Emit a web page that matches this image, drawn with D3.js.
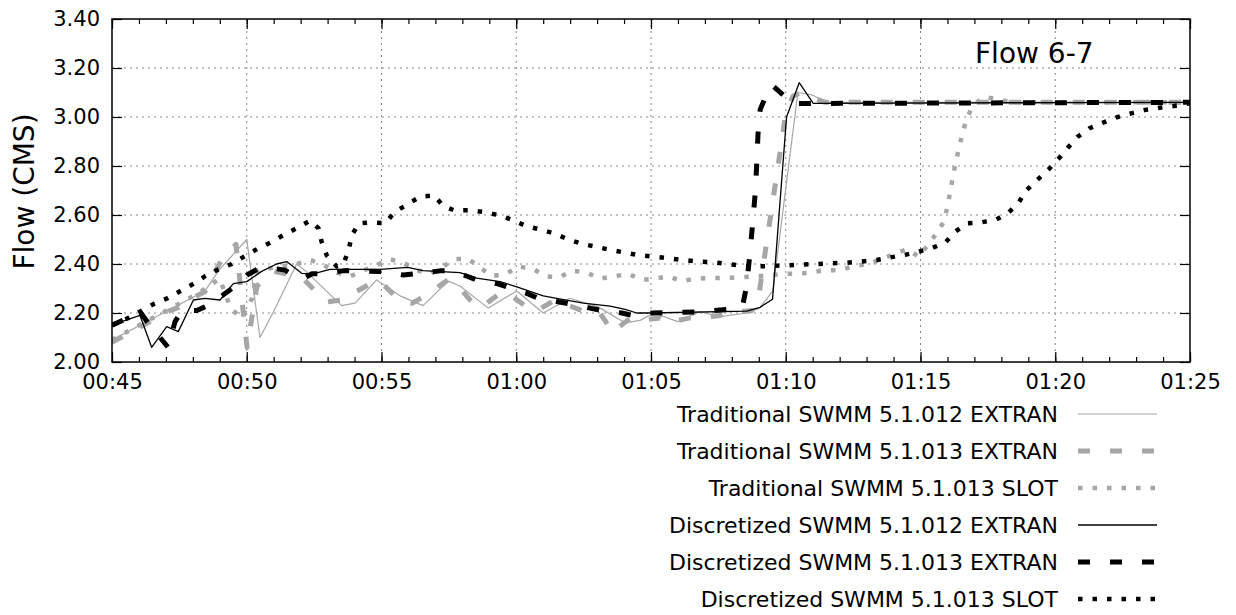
<!DOCTYPE html>
<html>
<head>
<meta charset="utf-8">
<title>Flow 6-7</title>
<script src="https://d3js.org/d3.v7.min.js"></script>
<style>
  body { margin: 0; background: #fff; }
  text { font-family: "DejaVu Sans", sans-serif; fill: #000; }
</style>
</head>
<body>
<script>
// time is minutes after midnight, flow in CMS
var trad012Extran = [[45.00,2.09],[48.45,2.29],[49.01,2.38],[50.00,2.50],[50.49,2.10],[50.97,2.20],[51.85,2.40],[52.20,2.37],
  [53.52,2.23],[54.02,2.24],[54.82,2.335],[55.69,2.27],[56.54,2.23],[57.48,2.33],[57.91,2.31],[58.96,2.22],[60.02,2.29],
  [61.00,2.20],[61.99,2.26],[63.03,2.225],[64.04,2.16],[64.60,2.17],[65.10,2.20],[66.00,2.165],[66.82,2.205],[67.57,2.185],
  [68.55,2.20],[69.03,2.22],[69.52,2.29],[70.45,3.10],[70.98,3.09],[71.54,3.06],[85.00,3.06]];

var trad013Extran = [[45.00,2.08],[47.15,2.21],[47.52,2.225],[48.08,2.267],[48.45,2.287],[48.93,2.39],[49.08,2.42],[49.60,2.48],
  [50.01,2.06],[50.38,2.31],[50.97,2.37],[51.68,2.355],[52.09,2.34],[52.64,2.28],[52.97,2.245],[53.65,2.255],[53.94,2.28],
  [54.76,2.33],[54.94,2.33],[55.50,2.27],[55.80,2.245],[56.13,2.24],[56.54,2.265],[56.87,2.29],[57.47,2.335],[57.84,2.31],
  [58.47,2.23],[58.73,2.225],[59.47,2.287],[59.69,2.28],[60.51,2.215],[60.77,2.21],[61.44,2.253],[61.73,2.24],[62.55,2.205],
  [63.10,2.20],[63.29,2.17],[63.55,2.12],[64.22,2.178],[64.59,2.17],[65.33,2.18],[65.59,2.16],[66.45,2.18],[66.82,2.18],
  [67.57,2.19],[67.83,2.20],[68.75,2.21],[68.97,2.25],[70.01,3.02],[70.27,3.085],[70.53,3.10],[70.97,3.08],[71.46,3.06],[85.00,3.06]];

var trad013Slot = [[45.00,2.09],[48.20,2.28],[49.00,2.34],[49.40,2.22],[49.80,2.18],[50.20,2.26],[50.40,2.375],[51.85,2.40],
  [52.35,2.417],[52.85,2.396],[53.35,2.365],[53.84,2.35],[54.82,2.396],[55.31,2.42],[55.81,2.405],[56.30,2.375],[56.80,2.36],
  [57.23,2.386],[57.72,2.42],[58.22,2.42],[58.65,2.387],[59.08,2.35],[59.64,2.36],[60.07,2.39],[60.63,2.38],[61.07,2.35],
  [61.62,2.346],[62.06,2.373],[62.61,2.365],[63.11,2.34],[63.66,2.35],[64.16,2.36],[64.65,2.335],[65.15,2.34],[65.64,2.35],
  [66.14,2.33],[66.63,2.34],[67.00,2.342],[68.00,2.344],[69.00,2.35],[69.50,2.355],[70.00,2.36],[70.50,2.36],[71.50,2.375],
  [72.00,2.375],[72.50,2.39],[73.00,2.40],[73.50,2.416],[74.00,2.44],[74.50,2.46],[74.94,2.43],[75.60,2.525],[75.85,2.57],
  [76.00,2.634],[76.30,2.813],[76.55,2.93],[76.70,2.988],[76.93,3.045],[77.36,3.083],[77.85,3.072],[78.40,3.06],[85.00,3.06]];

var disc012Extran = [[45.00,2.151],[46.04,2.19],[46.47,2.06],[47.03,2.144],[47.46,2.124],[48.02,2.253],[48.45,2.26],[49.01,2.253],
  [49.50,2.32],[50.00,2.328],[50.55,2.37],[51.11,2.40],[51.48,2.41],[52.04,2.362],[52.46,2.36],[53.09,2.378],[54.94,2.378],
  [55.98,2.386],[56.54,2.373],[57.91,2.365],[58.53,2.342],[59.40,2.328],[60.02,2.307],[61.00,2.27],[61.50,2.26],[62.49,2.24],
  [63.48,2.228],[64.04,2.215],[64.47,2.20],[64.96,2.20],[68.55,2.208],[69.04,2.223],[69.51,2.256],[70.03,3.00],[70.50,3.14],
  [71.02,3.056],[85.00,3.06]];

var disc013Extran = [[45.00,2.15],[45.59,2.18],[46.04,2.205],[46.30,2.165],[47.08,2.06],[47.34,2.165],[47.60,2.21],[48.15,2.21],
  [48.53,2.23],[49.08,2.27],[49.45,2.30],[50.01,2.355],[50.42,2.38],[51.12,2.38],[51.42,2.375],[51.72,2.355],[52.09,2.34],
  [52.42,2.36],[52.72,2.36],[53.65,2.373],[55.06,2.369],[55.80,2.355],[56.24,2.36],[57.17,2.372],[57.54,2.373],[58.17,2.35],
  [58.54,2.335],[59.29,2.32],[59.69,2.305],[60.44,2.278],[60.81,2.26],[61.55,2.246],[61.99,2.237],[62.74,2.22],[63.18,2.21],
  [63.92,2.20],[64.33,2.19],[65.07,2.20],[66.82,2.205],[67.86,2.215],[68.30,2.22],[68.42,2.24],[68.53,2.30],[68.67,2.44],
  [68.75,2.54],[68.86,2.68],[68.92,2.80],[68.97,2.93],[69.05,3.03],[69.24,3.08],[69.49,3.13],[69.90,3.09],[70.16,3.055],[85.00,3.06]];

var disc013Slot = [[45.00,2.151],[45.61,2.18],[46.55,2.237],[47.05,2.26],[47.54,2.29],[48.04,2.32],[48.45,2.35],[48.94,2.378],
  [49.44,2.40],[49.94,2.433],[50.43,2.464],[50.93,2.49],[51.36,2.518],[51.85,2.546],[52.35,2.577],[52.66,2.546],[52.78,2.49],
  [52.97,2.435],[53.34,2.39],[53.59,2.40],[53.78,2.457],[53.90,2.518],[54.17,2.566],[54.68,2.57],[55.13,2.566],[55.50,2.613],
  [55.96,2.643],[56.43,2.675],[56.95,2.68],[57.29,2.637],[57.72,2.618],[58.26,2.62],[58.80,2.612],[59.33,2.60],[59.87,2.58],
  [60.36,2.555],[60.88,2.541],[61.41,2.525],[61.93,2.50],[62.45,2.482],[62.98,2.47],[63.51,2.457],[64.05,2.446],[64.59,2.435],
  [65.15,2.43],[65.68,2.423],[66.23,2.416],[66.78,2.41],[67.34,2.407],[67.87,2.40],[68.40,2.392],[68.96,2.39],[69.52,2.392],
  [70.06,2.395],[71.15,2.40],[71.70,2.403],[72.26,2.405],[72.81,2.41],[73.37,2.416],[73.89,2.427],[74.42,2.437],[74.91,2.45],
  [75.40,2.464],[75.92,2.487],[76.29,2.532],[76.74,2.566],[77.25,2.57],[77.79,2.58],[78.27,2.61],[78.64,2.65],[78.92,2.70],
  [79.33,2.743],[79.75,2.786],[80.12,2.829],[80.47,2.875],[80.84,2.92],[81.27,2.954],[81.77,2.977],[82.29,2.999],[82.82,3.015],
  [83.34,3.029],[83.88,3.038],[84.41,3.045],[85.00,3.056]];

var seriesNames = ["Traditional SWMM 5.1.012 EXTRAN", "Traditional SWMM 5.1.013 EXTRAN", "Traditional SWMM 5.1.013 SLOT",
  "Discretized SWMM 5.1.012 EXTRAN", "Discretized SWMM 5.1.013 EXTRAN", "Discretized SWMM 5.1.013 SLOT"];
var seriesData = [trad012Extran, trad013Extran, trad013Slot, disc012Extran, disc013Extran, disc013Slot];

var xTicks = [45, 50, 55, 60, 65, 70, 75, 80, 85];
var yTicks = [2.0, 2.2, 2.4, 2.6, 2.8, 3.0, 3.2, 3.4];

// line looks
var gray = "#a6a6a6";
var styles = [
  {color: gray, width: 1.2, dash: null},
  {color: gray, width: 5, dash: "12,20"},
  {color: gray, width: 4.5, dash: "4.5,10"},
  {color: "#000", width: 1.3, dash: null},
  {color: "#000", width: 5, dash: "12,20"},
  {color: "#000", width: 4.5, dash: "4.5,10"}
];

var W = 1236, H = 615;
var margin = {top: 19, right: 46, bottom: 253, left: 112},
    width = W - margin.left - margin.right,
    height = H - margin.top - margin.bottom;

var svg = d3.select("body").append("svg")
    .attr("width", W)
    .attr("height", H);

var g = svg.append("g")
    .attr("transform", "translate(" + margin.left + "," + margin.top + ")");

var x = d3.scaleLinear().domain([45, 85]).range([0, width]);
var y = d3.scaleLinear().domain([2.0, 3.4]).range([height, 0]);

function hhmm(m) {
  var h = Math.floor(m / 60), mm = Math.round(m - h * 60);
  return d3.format("02d")(h) + ":" + d3.format("02d")(mm);
}

// grid
g.append("g").selectAll("line")
  .data(xTicks.slice(1, -1))
  .join("line")
    .attr("x1", function(d) { return x(d); }).attr("x2", function(d) { return x(d); })
    .attr("y1", 0).attr("y2", height)
    .attr("stroke", "#888").attr("stroke-width", 1).attr("stroke-dasharray", "2,4");
g.append("g").selectAll("line")
  .data(yTicks.slice(1, -1))
  .join("line")
    .attr("x1", 0).attr("x2", width)
    .attr("y1", function(d) { return y(d); }).attr("y2", function(d) { return y(d); })
    .attr("stroke", "#888").attr("stroke-width", 1).attr("stroke-dasharray", "2,4");

// data lines
g.append("clipPath").attr("id", "clip")
  .append("rect").attr("width", width).attr("height", height);

var line = d3.line()
    .x(function(d) { return x(d[0]); })
    .y(function(d) { return y(d[1]); });

var lines = g.append("g").attr("clip-path", "url(#clip)");
seriesData.forEach(function(s, i) {
  lines.append("path")
    .datum(s)
    .attr("d", line)
    .attr("fill", "none")
    .attr("stroke", styles[i].color)
    .attr("stroke-width", styles[i].width)
    .attr("stroke-dasharray", styles[i].dash)
    .attr("stroke-linejoin", "round");
});

// axes, ticks pointing inward
var minutes = d3.range(45, 86, 1);

g.append("g")
    .attr("transform", "translate(0," + height + ")")
    .call(d3.axisBottom(x).tickValues(xTicks).tickSize(-10).tickPadding(12).tickFormat(hhmm));
g.append("g")
    .attr("transform", "translate(0," + height + ")")
    .call(d3.axisBottom(x).tickValues(minutes).tickSize(-5).tickFormat(""));
g.append("g")
    .call(d3.axisTop(x).tickValues(xTicks).tickSize(-10).tickFormat(""));
g.append("g")
    .call(d3.axisTop(x).tickValues(minutes).tickSize(-5).tickFormat(""));
g.append("g")
    .call(d3.axisLeft(y).tickValues(yTicks).tickSize(-10).tickPadding(12).tickFormat(d3.format(".2f")));
g.append("g")
    .attr("transform", "translate(" + width + ",0)")
    .call(d3.axisRight(y).tickValues(yTicks).tickSize(-10).tickFormat(""));

g.selectAll(".domain").remove();
g.selectAll(".tick line").attr("stroke", "#000").attr("stroke-width", 1.2);
g.selectAll(".tick text").style("font-size", "21px").attr("fill", "#000");

// frame
g.append("rect")
    .attr("width", width).attr("height", height)
    .attr("fill", "none").attr("stroke", "#000").attr("stroke-width", 1.5);

// y label
svg.append("text")
    .attr("transform", "translate(34," + (margin.top + height / 2 + 1) + ") rotate(-90)")
    .attr("text-anchor", "middle")
    .style("font-size", "28px")
    .text("Flow (CMS)");

// title inside plot
svg.append("text")
    .attr("x", 975).attr("y", 63)
    .style("font-size", "28px")
    .text("Flow 6-7");

// legend
var legend = svg.append("g");
seriesNames.forEach(function(name, i) {
  var cy = 414 + i * 37;
  legend.append("text")
    .attr("x", 1058).attr("y", cy + 8)
    .attr("text-anchor", "end")
    .style("font-size", "22px")
    .text(name);
  legend.append("line")
    .attr("x1", 1078).attr("x2", 1157)
    .attr("y1", cy).attr("y2", cy)
    .attr("stroke", styles[i].color)
    .attr("stroke-width", styles[i].width)
    .attr("stroke-dasharray", styles[i].dash);
});
</script>
</body>
</html>
